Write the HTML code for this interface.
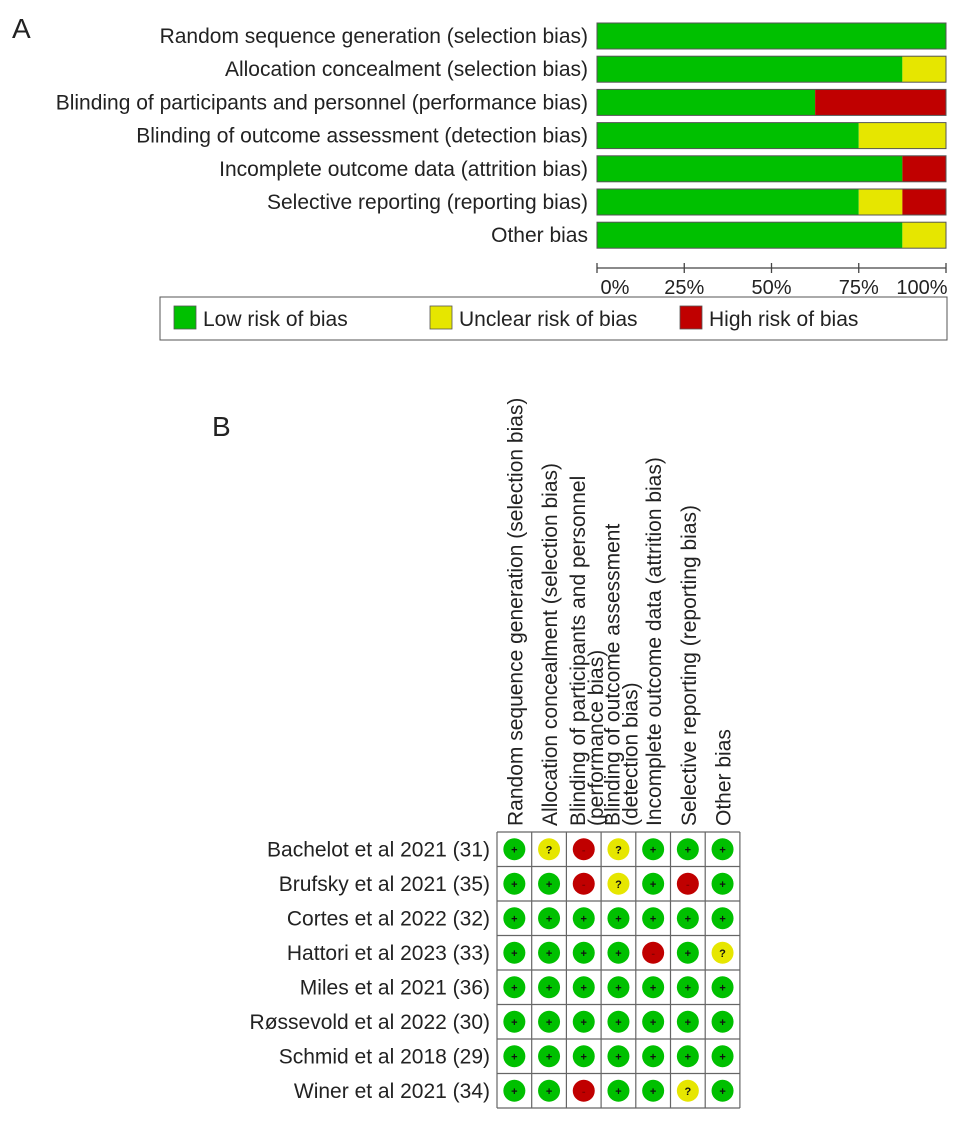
<!DOCTYPE html>
<html><head><meta charset="utf-8"><style>
html,body{margin:0;padding:0;background:#fff;}
svg{display:block;font-family:"Liberation Sans",Arial,sans-serif;}
</style></head><body>
<svg id="chart" width="969" height="1123" viewBox="0 0 969 1123" xmlns="http://www.w3.org/2000/svg">
<text x="12" y="38" font-size="28" fill="#222">A</text>
<text x="212" y="436" font-size="28" fill="#222">B</text>
<g id="panelA"></g>
<g id="legend"></g>
<g id="panelB"></g>
</svg>
<script>
const domains = ["Random sequence generation (selection bias)","Allocation concealment (selection bias)","Blinding of participants and personnel (performance bias)","Blinding of outcome assessment (detection bias)","Incomplete outcome data (attrition bias)","Selective reporting (reporting bias)","Other bias"];
const lowPct = [100,87.5,62.5,75,87.5,75,87.5];
const unclearPct = [0,12.5,0,25,0,12.5,12.5];
const highPct = [0,0,37.5,0,12.5,12.5,0];
const tickLabels = ["0%","25%","50%","75%","100%"];
const tickValues = [0,25,50,75,100];
const studies = ["Bachelot et al 2021 (31)","Brufsky et al 2021 (35)","Cortes et al 2022 (32)","Hattori et al 2023 (33)","Miles et al 2021 (36)","Røssevold et al 2022 (30)","Schmid et al 2018 (29)","Winer et al 2021 (34)"];
const colLabels = [["Random sequence generation (selection bias)"],["Allocation concealment (selection bias)"],["Blinding of participants and personnel","(performance bias)"],["Blinding of outcome assessment","(detection bias)"],["Incomplete outcome data (attrition bias)"],["Selective reporting (reporting bias)"],["Other bias"]];
const judgements = [
 ["L","U","H","U","L","L","L"],
 ["L","L","H","U","L","H","L"],
 ["L","L","L","L","L","L","L"],
 ["L","L","L","L","H","L","U"],
 ["L","L","L","L","L","L","L"],
 ["L","L","L","L","L","L","L"],
 ["L","L","L","L","L","L","L"],
 ["L","L","H","L","L","U","L"]
];
const NS="http://www.w3.org/2000/svg";
const GREEN="#00c000",YEL="#e6e600",RED="#c00000";
function mk(tag,attrs,parent){const e=document.createElementNS(NS,tag);for(const k in attrs)e.setAttribute(k,attrs[k]);parent.appendChild(e);return e;}
const A=document.getElementById('panelA');
const x0=597,x1=946,yTop=23,pitch=33.2,bh=26;
const xs=v=>x0+(x1-x0)*v/100;
domains.forEach((d,i)=>{
  const y=yTop+i*pitch;
  const t=mk('text',{x:588,y:y+bh/2+7,'font-size':21,'text-anchor':'end',fill:'#222'},A);
  t.textContent=d;
  
  
  const segs=[[0,lowPct[i],GREEN,'low'],[lowPct[i],lowPct[i]+unclearPct[i],YEL,'unclear'],[lowPct[i]+unclearPct[i],lowPct[i]+unclearPct[i]+highPct[i],RED,'high']];
  segs.forEach(s=>{ if(s[1]-s[0]<=0)return;
    const r=mk('rect',{x:xs(s[0]),y:y,width:xs(s[1])-xs(s[0]),height:bh,fill:s[2]},A);
    
    
  });
  const o=mk('rect',{x:x0,y:y,width:x1-x0,height:bh,fill:'none',stroke:'#555','stroke-width':1},A);
  
  
});
const ax=mk('line',{x1:x0,x2:x1,y1:268,y2:268,stroke:'#444','stroke-width':1.3},A);


tickValues.forEach((v,i)=>{
  const tk=mk('line',{x1:xs(v),x2:xs(v),y1:263,y2:273,stroke:'#444','stroke-width':1.3},A);
  
  
  const t=mk('text',{x:xs(v)+(i==0?18:i==4?-24:0),y:294,'font-size':20,'text-anchor':'middle',fill:'#222'},A);
  t.textContent=tickLabels[i];
  
  
});
const L=document.getElementById('legend');
const lb=mk('rect',{x:160,y:297,width:787,height:43,fill:'#fff',stroke:'#555','stroke-width':1},L);


[[174,GREEN,'Low risk of bias'],[430,YEL,'Unclear risk of bias'],[680,RED,'High risk of bias']].forEach(e=>{
  const s=mk('rect',{x:e[0],y:306,width:22,height:23,fill:e[1],stroke:'#555','stroke-width':0.8},L);
  
  
  const t=mk('text',{x:e[0]+29,y:326,'font-size':21,fill:'#222'},L);
  t.textContent=e[2];
  
  
});
const B=document.getElementById('panelB');
const gx=497,gy=832,cw=34.7,rh=34.5;
const nC=colLabels.length,nR=studies.length;
colLabels.forEach((lines,c)=>{
  const cx=gx+c*cw+cw/2;
  lines.forEach((ln,k)=>{
    const off=lines.length==1?8:(k==0?1:19);
    const t=mk('text',{x:0,y:0,'font-size':21,fill:'#222',transform:`translate(${cx+off},826) rotate(-90)`},B);
    t.textContent=ln;
    
    
  });
});
studies.forEach((s,r)=>{
  const t=mk('text',{x:490,y:gy+r*rh+rh/2+7,'font-size':21,'text-anchor':'end',fill:'#222'},B);
  t.textContent=s;
  
  
  judgements[r].forEach((j,c)=>{
    const cx=gx+c*cw+cw/2, cy=gy+r*rh+rh/2;
    const col=j=='L'?GREEN:j=='U'?YEL:RED;
    const ci=mk('circle',{cx:cx,cy:cy,r:11,fill:col},B);
    
    
    const g=mk('text',{x:cx,y:cy+4,'font-size':11,'font-weight':'bold','text-anchor':'middle',fill:j=='H'?'#8a0000':'#111'},B);
    g.textContent=j=='L'?'+':j=='U'?'?':'-';
    
    
  });
});
for(let c=0;c<=nC;c++){
  const l=mk('line',{x1:gx+c*cw,x2:gx+c*cw,y1:gy,y2:gy+nR*rh,stroke:'#666','stroke-width':1.2},B);
  
  
}
for(let r=0;r<=nR;r++){
  const l=mk('line',{x1:gx,x2:gx+nC*cw,y1:gy+r*rh,y2:gy+r*rh,stroke:'#666','stroke-width':1.2},B);
  
  
}
</script>
</body></html>
